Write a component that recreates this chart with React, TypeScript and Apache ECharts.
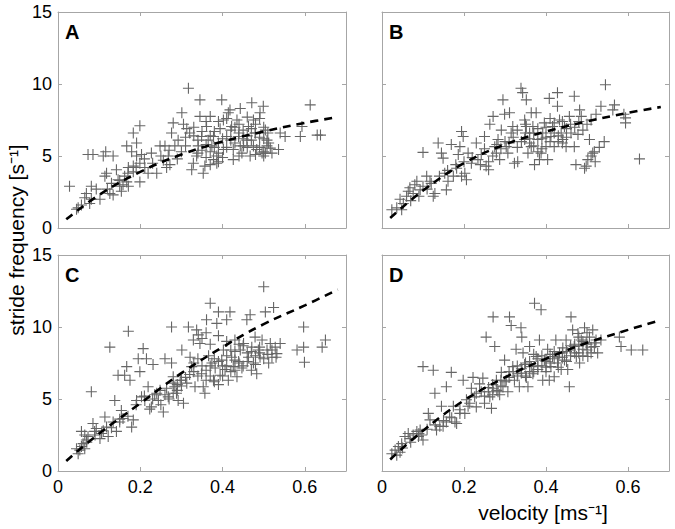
import React, { useEffect, useRef } from 'react';
import * as echarts from 'echarts';

const panelLetters = ['A', 'B', 'C', 'D'];
const xTicks = [0, 0.2, 0.4, 0.6];
const yTicks = [0, 5, 10, 15];
const yAxisTitle = 'stride frequency [s⁻¹]';
const xAxisTitle = 'velocity [ms⁻¹]';

const pointsA = [
  [0.028, 2.9], [0.049, 1.4], [0.057, 1.6], [0.045, 1.3], [0.065, 2.1], [0.069, 2.4],
  [0.073, 5.1], [0.085, 5.1], [0.11, 5.0], [0.116, 5.3], [0.134, 5.0],
  [0.081, 2.9], [0.093, 2.7], [0.102, 2.0], [0.081, 2.0], [0.077, 1.7],
  [0.118, 3.8], [0.114, 3.6], [0.126, 2.4], [0.134, 2.3],
  [0.142, 4.05], [0.146, 3.35], [0.15, 2.9], [0.154, 2.55], [0.158, 3.0], [0.167, 3.2], [0.171, 2.9], [0.162, 3.6],
  [0.167, 5.7], [0.179, 5.3], [0.183, 6.6], [0.199, 7.1], [0.191, 5.9],
  [0.171, 4.2], [0.183, 4.3], [0.183, 3.9], [0.199, 3.2], [0.191, 5.0], [0.203, 5.1], [0.199, 4.5],
  [0.211, 4.2], [0.219, 3.8], [0.227, 5.2], [0.24, 3.8], [0.248, 5.7], [0.26, 5.7],
  [0.256, 4.7], [0.264, 4.2], [0.272, 4.4], [0.268, 5.0],
  [0.28, 7.3], [0.276, 6.6], [0.284, 5.7], [0.292, 6.1], [0.301, 8.0], [0.305, 7.2], [0.317, 9.7], [0.313, 6.9],
  [0.325, 4.05], [0.329, 4.5], [0.337, 5.0], [0.341, 5.7], [0.345, 8.9], [0.345, 7.75], [0.349, 6.35], [0.353, 3.8], [0.357, 4.3],
  [0.361, 7.05], [0.365, 6.1], [0.37, 7.75], [0.374, 5.7], [0.378, 4.75], [0.378, 6.35],
  [0.386, 5.0], [0.386, 4.5], [0.39, 5.9], [0.394, 6.9], [0.398, 8.9], [0.402, 7.5], [0.402, 5.45],
  [0.41, 6.35], [0.414, 8.0], [0.418, 8.2], [0.422, 7.05], [0.426, 5.45], [0.426, 4.75],
  [0.435, 7.5], [0.439, 6.35], [0.443, 8.3], [0.443, 5.7], [0.447, 5.2],
  [0.459, 6.1], [0.463, 7.05], [0.467, 5.0], [0.471, 8.7], [0.475, 7.5], [0.479, 6.6], [0.483, 5.45],
  [0.491, 8.0], [0.499, 8.45], [0.504, 6.8], [0.504, 5.2], [0.508, 6.1], [0.512, 5.9],
  [0.516, 5.55], [0.536, 5.45], [0.54, 6.6], [0.552, 6.35], [0.589, 6.35], [0.593, 7.05], [0.613, 8.55], [0.638, 6.45], [0.63, 6.45],
  [0.5, 5.3], [0.496, 5.2], [0.508, 5.7], [0.475, 5.7], [0.451, 5.7],
  [0.36, 5.8], [0.37, 6.4], [0.38, 6.7], [0.39, 5.2], [0.4, 6.2], [0.41, 5.6], [0.42, 6.8], [0.43, 5.9], [0.44, 6.6],
  [0.45, 6.2], [0.46, 5.6], [0.47, 6.9], [0.48, 7.2], [0.49, 6.3], [0.5, 7.0], [0.35, 6.7], [0.33, 6.4], [0.31, 5.7],
  [0.3, 5.3], [0.34, 5.2], [0.37, 4.4], [0.39, 4.6], [0.41, 7.6], [0.44, 7.2], [0.46, 7.7], [0.48, 5.1], [0.5, 5.0],
  [0.49, 7.6], [0.32, 6.6], [0.36, 7.4],
  [0.31, 6.3], [0.33, 7.0], [0.35, 5.4], [0.36, 4.9], [0.38, 5.6], [0.4, 4.9], [0.42, 6.1], [0.44, 5.0], [0.45, 6.8],
  [0.47, 6.1], [0.49, 5.6], [0.51, 6.6], [0.52, 5.2], [0.5, 6.2], [0.48, 6.6], [0.46, 6.4], [0.43, 7.0], [0.39, 7.4],
  [0.37, 5.3], [0.34, 6.1], [0.29, 4.8], [0.27, 5.4], [0.25, 5.0], [0.23, 4.5], [0.21, 4.8], [0.19, 4.2], [0.17, 3.8],
  [0.15, 3.3], [0.13, 3.1], [0.12, 2.7],
];

const pointsB = [
  [0.024, 1.27], [0.036, 1.4], [0.048, 1.27], [0.052, 1.7], [0.044, 2.0],
  [0.06, 2.2], [0.064, 2.55], [0.068, 2.8], [0.076, 2.4], [0.08, 3.0], [0.085, 3.25], [0.093, 2.65], [0.1, 2.9],
  [0.1, 5.25], [0.109, 3.6], [0.117, 3.25], [0.125, 2.2], [0.129, 2.4],
  [0.137, 5.9], [0.145, 5.2], [0.149, 4.85], [0.153, 3.8], [0.157, 2.65], [0.161, 3.25], [0.169, 5.8], [0.174, 3.6],
  [0.182, 4.15], [0.186, 5.1], [0.19, 5.65], [0.194, 6.7], [0.198, 6.35], [0.202, 3.8], [0.206, 3.35], [0.194, 3.6],
  [0.21, 5.2], [0.218, 4.5], [0.23, 5.9], [0.234, 4.75], [0.242, 5.1], [0.25, 6.35], [0.254, 4.3], [0.26, 4.05],
  [0.263, 7.2], [0.271, 7.75], [0.275, 5.65], [0.279, 5.2], [0.283, 6.15], [0.287, 4.75], [0.291, 6.8], [0.295, 8.9], [0.299, 7.9],
  [0.303, 5.65], [0.307, 5.2], [0.311, 8.0], [0.315, 6.6], [0.319, 7.05], [0.323, 4.5], [0.331, 4.6], [0.339, 9.7], [0.343, 9.4],
  [0.348, 7.5], [0.348, 6.15], [0.352, 8.9], [0.352, 7.05], [0.356, 5.2], [0.36, 6.6], [0.364, 8.0], [0.364, 5.65],
  [0.368, 7.05], [0.372, 4.4], [0.376, 8.0], [0.38, 6.15], [0.384, 4.75], [0.388, 5.2], [0.392, 6.6], [0.396, 7.3],
  [0.4, 5.65], [0.404, 4.75], [0.408, 9.0], [0.412, 6.35], [0.416, 7.05], [0.42, 5.65], [0.428, 9.4], [0.428, 8.45],
  [0.433, 7.5], [0.437, 6.6], [0.441, 6.15], [0.445, 7.05], [0.449, 5.65], [0.457, 7.75], [0.461, 6.6], [0.469, 9.15],
  [0.469, 5.65], [0.473, 4.4], [0.478, 6.5], [0.482, 8.2], [0.486, 7.75], [0.49, 6.8], [0.494, 4.15], [0.498, 4.3], [0.502, 4.75],
  [0.506, 6.15], [0.51, 5.0], [0.514, 5.2], [0.518, 5.3], [0.522, 7.9], [0.534, 8.45], [0.542, 6.0], [0.545, 9.95],
  [0.563, 8.2], [0.567, 8.55], [0.59, 7.9], [0.594, 7.65], [0.594, 7.3], [0.628, 4.8],
  [0.36, 6.2], [0.37, 5.7], [0.38, 6.9], [0.39, 5.5], [0.4, 7.0], [0.41, 6.0], [0.42, 7.3], [0.43, 6.4], [0.44, 5.9],
  [0.45, 6.9], [0.46, 7.2], [0.35, 6.6], [0.34, 6.0], [0.33, 5.6], [0.32, 6.3], [0.3, 6.0], [0.29, 5.5], [0.27, 5.0],
  [0.26, 4.6], [0.24, 4.4],
  [0.33, 6.8], [0.35, 7.2], [0.36, 5.9], [0.37, 6.6], [0.38, 5.3], [0.39, 6.2], [0.4, 6.3], [0.41, 7.6], [0.42, 6.6],
  [0.43, 6.0], [0.44, 7.4], [0.45, 6.3], [0.47, 7.0], [0.48, 7.4], [0.5, 7.2], [0.51, 7.5], [0.31, 5.9], [0.28, 5.8],
  [0.25, 5.5], [0.22, 4.9], [0.2, 4.6], [0.18, 4.4], [0.16, 4.0], [0.14, 3.6], [0.12, 3.1], [0.11, 2.7], [0.09, 2.2],
  [0.07, 1.9], [0.53, 5.6], [0.52, 4.6],
];

const pointsC = [
  [0.049, 1.2], [0.053, 1.45], [0.057, 1.7], [0.061, 1.9], [0.045, 1.55], [0.065, 1.55], [0.069, 2.15],
  [0.057, 2.75], [0.065, 2.5], [0.073, 2.4], [0.081, 5.5], [0.085, 3.3], [0.089, 2.75], [0.093, 2.95], [0.102, 2.25], [0.106, 2.6],
  [0.114, 3.75], [0.118, 3.05], [0.122, 2.4], [0.126, 8.6], [0.134, 3.4], [0.138, 4.9], [0.142, 2.75], [0.146, 6.65], [0.15, 3.4], [0.154, 4.2],
  [0.158, 3.65], [0.162, 6.65], [0.167, 7.25], [0.171, 9.7], [0.175, 6.3], [0.179, 3.05], [0.183, 3.55],
  [0.191, 4.9], [0.195, 7.8], [0.199, 6.9], [0.203, 5.15], [0.207, 8.5], [0.211, 4.9], [0.215, 7.8], [0.219, 5.85], [0.223, 4.3],
  [0.227, 4.45], [0.231, 7.4], [0.235, 5.3], [0.244, 4.9], [0.248, 5.6], [0.256, 4.1], [0.26, 7.8], [0.264, 5.75], [0.268, 5.15],
  [0.276, 10.0], [0.276, 7.5], [0.28, 6.55], [0.284, 5.85], [0.288, 5.4], [0.292, 4.9], [0.297, 6.3], [0.301, 8.4], [0.305, 4.7],
  [0.313, 6.1], [0.317, 10.0], [0.321, 7.9], [0.325, 7.25], [0.329, 9.1], [0.333, 5.85], [0.337, 9.8], [0.341, 9.45], [0.345, 8.85],
  [0.349, 6.75], [0.353, 5.85], [0.357, 5.4], [0.361, 10.5], [0.366, 8.0], [0.37, 11.65], [0.374, 7.5], [0.378, 6.3], [0.382, 7.15],
  [0.386, 10.25], [0.39, 11.05], [0.394, 6.65], [0.398, 7.7], [0.402, 8.4], [0.406, 7.05], [0.41, 10.5], [0.414, 6.3], [0.418, 11.05],
  [0.422, 7.9], [0.426, 7.25], [0.43, 9.1], [0.435, 6.55], [0.439, 7.6], [0.443, 8.4], [0.447, 7.15], [0.451, 8.85], [0.459, 10.5],
  [0.463, 7.9], [0.467, 10.85], [0.471, 8.6], [0.475, 7.5], [0.479, 9.3], [0.483, 6.75], [0.487, 8.4], [0.491, 7.9], [0.496, 9.1],
  [0.5, 12.8], [0.504, 11.05], [0.508, 8.4], [0.512, 7.5], [0.516, 8.85], [0.52, 7.9], [0.524, 11.35], [0.528, 8.6], [0.532, 8.15],
  [0.54, 8.85], [0.581, 8.4], [0.597, 10.0], [0.597, 8.6], [0.599, 7.55], [0.642, 8.6], [0.65, 9.1],
  [0.36, 7.0], [0.37, 6.6], [0.38, 7.8], [0.39, 6.0], [0.4, 7.3], [0.41, 8.0], [0.42, 6.9], [0.43, 7.7], [0.44, 8.8],
  [0.45, 7.3], [0.46, 8.2], [0.47, 7.0], [0.48, 8.0], [0.49, 8.6], [0.35, 7.3], [0.34, 6.6], [0.33, 6.9], [0.31, 6.5],
  [0.3, 5.9], [0.29, 6.0], [0.28, 5.4], [0.27, 5.0], [0.25, 4.6], [0.24, 5.4], [0.37, 8.8], [0.39, 9.4], [0.41, 9.0],
  [0.43, 8.3], [0.36, 9.6], [0.35, 9.2],
  [0.36, 6.3], [0.37, 7.3], [0.38, 6.2], [0.39, 7.6], [0.4, 6.6], [0.41, 7.3], [0.42, 8.4], [0.43, 7.0], [0.44, 7.5],
  [0.45, 8.7], [0.46, 7.6], [0.47, 8.3], [0.48, 7.4], [0.49, 8.2], [0.5, 7.8], [0.51, 8.1], [0.52, 8.4], [0.53, 7.9],
  [0.34, 7.8], [0.33, 7.5], [0.32, 6.7], [0.3, 6.3], [0.29, 5.6], [0.28, 6.1], [0.26, 5.3], [0.23, 5.0], [0.21, 5.2],
  [0.19, 4.6], [0.17, 3.8], [0.15, 3.6], [0.13, 3.0], [0.11, 2.8], [0.09, 2.5], [0.07, 2.0],
];

const pointsD = [
  [0.024, 1.2], [0.032, 1.45], [0.04, 1.7], [0.048, 1.9], [0.036, 1.1], [0.044, 1.3],
  [0.056, 2.4], [0.064, 2.6], [0.068, 2.25], [0.076, 2.5], [0.085, 2.75], [0.089, 2.4], [0.093, 2.85], [0.1, 2.15], [0.097, 2.5],
  [0.1, 7.25], [0.113, 4.0], [0.117, 3.55], [0.125, 7.0], [0.129, 5.4], [0.133, 2.85], [0.141, 3.1], [0.145, 4.5], [0.149, 3.1],
  [0.157, 5.85], [0.157, 3.4], [0.165, 3.75], [0.169, 6.85], [0.174, 4.5], [0.178, 3.4], [0.182, 3.3], [0.19, 4.25], [0.198, 6.3],
  [0.202, 4.0], [0.206, 4.95], [0.214, 4.7], [0.218, 5.75], [0.222, 6.5], [0.226, 5.15], [0.23, 4.45], [0.238, 6.05], [0.242, 5.5],
  [0.246, 6.45], [0.25, 4.7], [0.254, 9.3], [0.259, 5.5], [0.263, 5.15], [0.267, 4.35], [0.271, 10.7], [0.271, 5.75], [0.275, 8.65], [0.279, 6.3],
  [0.283, 5.5], [0.287, 5.3], [0.291, 6.85], [0.295, 5.85], [0.299, 7.7], [0.303, 6.3], [0.307, 5.5], [0.311, 10.7], [0.315, 10.1],
  [0.319, 7.25], [0.323, 6.3], [0.327, 8.45], [0.331, 6.75], [0.335, 5.85], [0.339, 9.95], [0.341, 9.3], [0.344, 8.2], [0.348, 7.4], [0.352, 6.5],
  [0.356, 5.85], [0.36, 8.65], [0.364, 7.25], [0.368, 6.75], [0.372, 11.65], [0.376, 7.95], [0.38, 7.05], [0.384, 9.1], [0.388, 11.2], [0.392, 6.3],
  [0.396, 7.7], [0.4, 6.9], [0.404, 8.45], [0.408, 6.3], [0.412, 7.25], [0.416, 7.95], [0.42, 6.55], [0.424, 9.1], [0.428, 7.5],
  [0.433, 8.2], [0.437, 7.05], [0.441, 8.55], [0.445, 7.7], [0.449, 9.1], [0.453, 7.05], [0.457, 5.85], [0.461, 10.7], [0.465, 9.8],
  [0.469, 8.65], [0.474, 7.95], [0.478, 9.55], [0.482, 7.5], [0.486, 9.1], [0.49, 8.45], [0.494, 9.95], [0.498, 8.9], [0.502, 7.95],
  [0.506, 9.3], [0.51, 8.2], [0.514, 9.8], [0.518, 8.65], [0.522, 9.1], [0.526, 8.2], [0.534, 9.1], [0.579, 9.3], [0.583, 8.65], [0.608, 8.4], [0.636, 8.4],
  [0.34, 7.1], [0.35, 6.6], [0.36, 7.6], [0.37, 6.9], [0.38, 7.8], [0.39, 7.3], [0.4, 7.6], [0.41, 8.1], [0.42, 7.8],
  [0.43, 7.2], [0.44, 7.9], [0.45, 8.3], [0.46, 8.0], [0.47, 8.8], [0.48, 8.2], [0.49, 9.0], [0.5, 8.4], [0.33, 7.3],
  [0.32, 6.9], [0.31, 6.5], [0.3, 6.2], [0.29, 5.9], [0.28, 5.6], [0.27, 6.0], [0.26, 5.8], [0.5, 9.6], [0.48, 9.3], [0.46, 8.7],
  [0.35, 7.5], [0.36, 6.9], [0.37, 8.1], [0.38, 7.3], [0.39, 8.0], [0.4, 7.2], [0.41, 7.5], [0.42, 8.3], [0.43, 7.9],
  [0.44, 8.2], [0.45, 7.6], [0.46, 8.4], [0.47, 8.2], [0.48, 8.7], [0.49, 8.0], [0.5, 8.8], [0.51, 8.6], [0.52, 8.9],
  [0.34, 6.8], [0.33, 6.6], [0.31, 6.9], [0.29, 6.3], [0.27, 5.3], [0.25, 5.2], [0.23, 5.4], [0.21, 4.5], [0.19, 4.0],
  [0.17, 3.7], [0.15, 3.5], [0.13, 3.2], [0.11, 2.9], [0.09, 2.6], [0.07, 2.0], [0.05, 1.6],
];

const fitA = [[0.02, 0.6], [0.1, 2.3], [0.2, 3.9], [0.3, 5.1], [0.4, 6.0], [0.5, 6.7], [0.6, 7.3], [0.68, 7.7]];
const fitB = [[0.02, 0.7], [0.1, 2.6], [0.2, 4.5], [0.3, 5.8], [0.4, 6.7], [0.5, 7.4], [0.6, 8.0], [0.68, 8.4]];
const fitC = [[0.02, 0.7], [0.1, 2.6], [0.2, 4.7], [0.3, 6.8], [0.4, 8.6], [0.5, 10.2], [0.6, 11.5], [0.68, 12.6]];
const fitD = [[0.02, 0.8], [0.1, 2.8], [0.2, 4.9], [0.3, 6.5], [0.4, 7.8], [0.5, 8.9], [0.6, 9.8], [0.67, 10.4]];

const panelPoints = [pointsA, pointsB, pointsC, pointsD];
const panelFits = [fitA, fitB, fitC, fitD];

const PLUS = 'path://M5,0L5,10M0,5L10,5';
const BOX = '#a6a6a6';
const FONT = 'Liberation Sans, Arial, sans-serif';

export default function App() {
  const ref = useRef<HTMLDivElement>(null);
  useEffect(() => {
    if (!ref.current) return;
    const chart = echarts.init(ref.current, undefined, { renderer: 'svg' });
    const rects = [
      { left: 58, top: 12, width: 288, height: 216 },
      { left: 382, top: 12, width: 287, height: 216 },
      { left: 58, top: 255, width: 288, height: 216 },
      { left: 382, top: 255, width: 287, height: 216 },
    ];
    const grid: any[] = [];
    const xAxis: any[] = [];
    const yAxis: any[] = [];
    const series: any[] = [];
    const graphic: any[] = [];
    rects.forEach((r, i) => {
      grid.push({ ...r, containLabel: false });
      const showX = i >= 2;
      const showY = i % 2 === 0;
      const common = {
        gridIndex: i,
        type: 'value',
        axisLine: { show: true, onZero: false, lineStyle: { color: BOX, width: 1 } },
        axisTick: { show: true, inside: true, length: 4, lineStyle: { color: BOX } },
        splitLine: { show: false },
      };
      xAxis.push({
        ...common,
        position: 'bottom',
        min: xTicks[0],
        max: 0.7,
        interval: 0.2,
        axisLabel: {
          show: showX,
          color: '#000',
          fontSize: 18,
          fontFamily: FONT,
          margin: 7,
          formatter: (v: number) => (Math.abs(v - 0.7) < 1e-9 ? '' : v === 0 ? '0' : v.toFixed(1)),
        },
      });
      xAxis.push({
        ...common,
        position: 'top',
        min: xTicks[0],
        max: 0.7,
        interval: 0.2,
        axisLabel: { show: false },
      });
      yAxis.push({
        ...common,
        position: 'left',
        min: yTicks[0],
        max: yTicks[yTicks.length - 1],
        interval: 5,
        axisLabel: { show: showY, color: '#000', fontSize: 18, fontFamily: FONT, margin: 6 },
      });
      yAxis.push({
        ...common,
        position: 'right',
        min: yTicks[0],
        max: yTicks[yTicks.length - 1],
        interval: 5,
        axisLabel: { show: false },
      });
      series.push({
        type: 'scatter',
        xAxisIndex: i * 2,
        yAxisIndex: i * 2,
        data: panelPoints[i],
        symbol: PLUS,
        symbolSize: 11,
        itemStyle: { color: 'rgba(0,0,0,0)', borderColor: '#666666', borderWidth: 1.1, opacity: 1 },
        z: 2,
      });
      series.push({
        type: 'line',
        xAxisIndex: i * 2,
        yAxisIndex: i * 2,
        data: panelFits[i],
        smooth: 0.4,
        showSymbol: false,
        symbol: 'none',
        lineStyle: { color: '#000', width: 2.6, type: [8, 6] },
        z: 3,
      });
      graphic.push({
        type: 'text',
        left: r.left + 7,
        top: r.top + 10,
        style: { text: panelLetters[i], font: `bold 20px ${FONT}`, fill: '#000' },
        z: 10,
      });
    });
    graphic.push({
      type: 'text',
      x: 16,
      y: 240,
      rotation: Math.PI / 2,
      style: {
        text: yAxisTitle,
        font: `21px ${FONT}`,
        fill: '#000',
        align: 'center',
        verticalAlign: 'middle',
      },
    });
    graphic.push({
      type: 'text',
      x: 543,
      y: 512,
      style: {
        text: xAxisTitle,
        font: `21px ${FONT}`,
        fill: '#000',
        align: 'center',
        verticalAlign: 'middle',
      },
    });
    chart.setOption({
      animation: false,
      backgroundColor: '#fff',
      grid,
      xAxis,
      yAxis,
      series,
      graphic,
    });
    return () => chart.dispose();
  }, []);
  return (
    <div
      ref={ref}
      style={{ position: 'fixed', left: 0, top: 0, width: 675, height: 529, background: '#fff' }}
    />
  );
}
